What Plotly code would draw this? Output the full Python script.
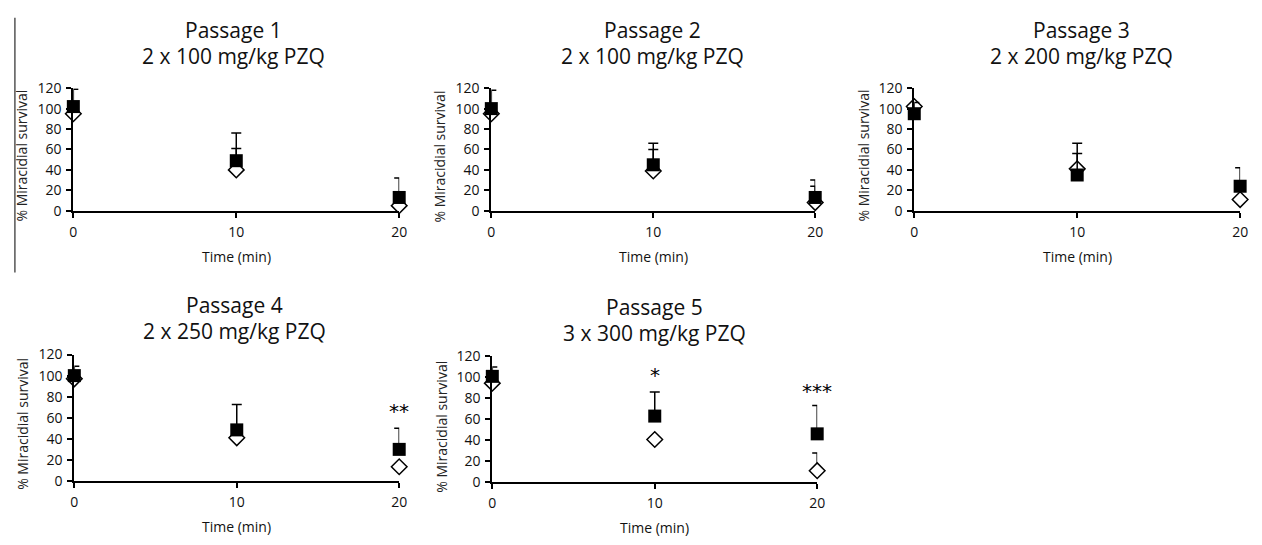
import plotly.graph_objects as go

W, H = 1262, 545

times = [0, 10, 20]
title_line1 = ["Passage 1", "Passage 2", "Passage 3", "Passage 4", "Passage 5"]
title_line2 = ["2 x 100 mg/kg PZQ", "2 x 100 mg/kg PZQ", "2 x 200 mg/kg PZQ",
               "2 x 250 mg/kg PZQ", "3 x 300 mg/kg PZQ"]

# filled squares (mean, upper SD)
sq_p1 = [102, 49, 13]; sq_err_p1 = [17, 27, 19]
sq_p2 = [100, 45, 13]; sq_err_p2 = [18, 21, 17]
sq_p3 = [95, 35, 24];  sq_err_p3 = [11, 31, 18]
sq_p4 = [100, 48.5, 30]; sq_err_p4 = [9, 24, 20]
sq_p5 = [101, 63, 46]; sq_err_p5 = [9, 23, 27]

# open diamonds (mean, upper SD)
dia_p1 = [95, 40, 5];  dia_err_p1 = [5, 21, 0]
dia_p2 = [95, 39, 8];  dia_err_p2 = [5, 21, 16]
dia_p3 = [102, 41, 11]; dia_err_p3 = [3, 15, 0]
dia_p4 = [97, 41, 13.5]; dia_err_p4 = [0, 0, 0]
dia_p5 = [94.5, 40.6, 10.8]; dia_err_p5 = [0, 0, 17]

# significance marks
sig_panel = [3, 4, 4]
sig_x = [20, 10, 20]
sig_y = [69, 105, 90]
sig_text = ["**", "*", "***"]

ytick_vals = [0, 20, 40, 60, 80, 100, 120]
xtick_vals = [0, 10, 20]

sq_all = [sq_p1, sq_p2, sq_p3, sq_p4, sq_p5]
sq_err_all = [sq_err_p1, sq_err_p2, sq_err_p3, sq_err_p4, sq_err_p5]
dia_all = [dia_p1, dia_p2, dia_p3, dia_p4, dia_p5]
dia_err_all = [dia_err_p1, dia_err_p2, dia_err_p3, dia_err_p4, dia_err_p5]

# panel geometry in pixels: (left, right, top, bottom)
geom = [(70, 399, 81, 208), (492, 819, 81, 208), (919, 1248, 81, 208),
        (71, 399, 357, 488), (493, 821, 359, 489)]
title_pos = [(232, 21), (655, 21), (1088, 21), (233, 306), (657, 308)]
ytitle_pos = [(18, 151), (440, 152), (868, 151), (18, 429), (442, 432)]

FONT = "Open Sans"
fig = go.Figure()
for i in range(5):
    ax = "" if i == 0 else str(i + 1)
    fig.add_trace(go.Scatter(
        x=times, y=dia_all[i], mode="markers", xaxis="x" + ax, yaxis="y" + ax,
        marker=dict(symbol="diamond", size=12, color="white",
                    line=dict(color="black", width=1.5)),
        error_y=dict(type="data", symmetric=False, array=dia_err_all[i],
                     arrayminus=[0, 0, 0], color="black", thickness=1.5, width=5),
        cliponaxis=False, showlegend=False, hoverinfo="skip"))
    fig.add_trace(go.Scatter(
        x=times, y=sq_all[i], mode="markers", xaxis="x" + ax, yaxis="y" + ax,
        marker=dict(symbol="square", size=13, color="black",
                    line=dict(color="black", width=0)),
        error_y=dict(type="data", symmetric=False, array=sq_err_all[i],
                     arrayminus=[0, 0, 0], color="black", thickness=1.5, width=5),
        cliponaxis=False, showlegend=False, hoverinfo="skip"))
    l, r, t, b = geom[i]
    xd = [l / W, r / W]
    yd = [1 - b / H, 1 - t / H]
    fig.layout["xaxis" + ax] = dict(
        domain=xd, range=[0, 20], anchor="y" + ax, tickvals=xtick_vals,
        showline=True, linecolor="black", linewidth=2, ticks="outside",
        ticklen=5, tickwidth=1.5, tickcolor="black", showgrid=False,
        zeroline=False, tickfont=dict(family=FONT, size=14, color="#111"),
        ticklabelstandoff=2)
    fig.layout["yaxis" + ax] = dict(
        domain=yd, range=[0, 120], anchor="x" + ax, tickvals=ytick_vals,
        showline=True, linecolor="black", linewidth=2, ticks="outside",
        ticklen=5, tickwidth=1.5, tickcolor="black", showgrid=False,
        zeroline=False, tickfont=dict(family=FONT, size=14, color="#111"),
        ticklabelstandoff=2)
    tx, ty = title_pos[i]
    fig.add_annotation(x=tx / W, y=1 - ty / H, xref="paper", yref="paper",
                       text=title_line1[i], showarrow=False, xanchor="center",
                       yanchor="middle",
                       font=dict(family=FONT, size=21, color="#111"))
    fig.add_annotation(x=tx / W, y=1 - (ty + 27) / H, xref="paper", yref="paper",
                       text=title_line2[i], showarrow=False, xanchor="center",
                       yanchor="middle",
                       font=dict(family=FONT, size=21, color="#111"))
    fig.add_annotation(x=(l + r) / 2 / W, y=1 - (b + 47) / H, xref="paper",
                       yref="paper", text="Time (min)", showarrow=False,
                       xanchor="center", yanchor="middle",
                       font=dict(family=FONT, size=14, color="#111"))
    yx, yy = ytitle_pos[i]
    fig.add_annotation(x=yx / W, y=1 - yy / H, xref="paper", yref="paper",
                       text="% Miracidial survival", showarrow=False,
                       textangle=-90, xanchor="center", yanchor="middle",
                       font=dict(family=FONT, size=14, color="#222"))

for p, sx, sy, st in zip(sig_panel, sig_x, sig_y, sig_text):
    ax = "" if p == 0 else str(p + 1)
    fig.add_annotation(x=sx, y=sy, xref="x" + ax, yref="y" + ax, text=st,
                       showarrow=False, xanchor="center", yanchor="middle",
                       yshift=-3,
                       font=dict(family="DejaVu Sans", size=20, color="black"))

# left border line present in the source image
fig.add_shape(type="line", xref="paper", yref="paper", x0=11 / W, x1=11 / W,
              y0=1 - 8 / H, y1=1 - 272 / H, line=dict(color="#555", width=1.5))

fig.update_layout(width=W, height=H, margin=dict(l=0, r=0, t=0, b=0),
                  paper_bgcolor="white", plot_bgcolor="white", hovermode=False)
fig.write_html("out.html", config={"displayModeBar": False},
               post_script="document.body.style.margin='0';"
                           "document.body.style.overflow='hidden';")
